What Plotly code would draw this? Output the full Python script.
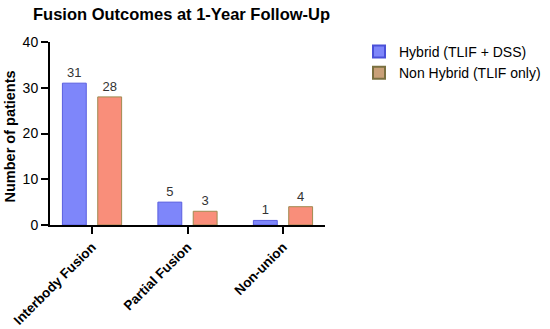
import plotly.graph_objects as go

categories = ["Interbody Fusion", "Partial Fusion", "Non-union"]
hybrid = [31, 5, 1]
non_hybrid = [28, 3, 4]
series_names = ["Hybrid (TLIF + DSS)", "Non Hybrid (TLIF only)"]
y_ticks = [0, 10, 20, 30, 40]
y_title = "Number of patients"
chart_title = "Fusion Outcomes at 1-Year Follow-Up"

FONT = "Liberation Sans, Arial, sans-serif"
W, H = 550, 329
L, R, T, B = 50, 225, 42, 104

fig = go.Figure()
fig.add_trace(go.Bar(
    x=categories, y=hybrid, name=series_names[0], showlegend=False,
    marker=dict(color="#7E86FA", line=dict(color="#5A5FE0", width=1)),
    width=0.25, offset=-0.31,
    text=hybrid, textposition="outside", textfont=dict(size=13, color="#333333", family=FONT),
    cliponaxis=False,
))
fig.add_trace(go.Bar(
    x=categories, y=non_hybrid, name=series_names[1], showlegend=False,
    marker=dict(color="#F98E7A", line=dict(color="#A08A50", width=1)),
    width=0.25, offset=0.06,
    text=non_hybrid, textposition="outside", textfont=dict(size=13, color="#333333", family=FONT),
    cliponaxis=False,
))
# legend entries
fig.add_trace(go.Bar(x=[None], y=[None], name=series_names[0],
                     marker=dict(color="#7E86FA", line=dict(color="#4A50D8", width=1))))
fig.add_trace(go.Bar(x=[None], y=[None], name=series_names[1],
                     marker=dict(color="#C9A078", line=dict(color="#7A7040", width=1))))

pw = W - L - R
ph = H - T - B
fig.update_layout(
    width=W, height=H,
    margin=dict(l=L, r=R, t=T, b=B, autoexpand=False),
    paper_bgcolor="white", plot_bgcolor="white",
    font=dict(family=FONT, color="black"),
    title=dict(text=f"<b>{chart_title}</b>", x=33/W, xanchor="left",
               y=1 - 14/H, yanchor="middle", font=dict(size=16.5, family=FONT, color="black")),
    showlegend=True,
    legend=dict(x=359/W, xref="container", y=1 - 36/H, yref="container",
                yanchor="top", xanchor="left",
                font=dict(size=14, family=FONT, color="black"), tracegroupgap=0,
                itemsizing="constant", bgcolor="rgba(0,0,0,0)"),
    barmode="overlay",
    annotations=[dict(
        text=f"<b>{y_title}</b>", textangle=-90, showarrow=False,
        xref="paper", yref="paper",
        x=(9.5 - L) / pw, y=(H - B - 137) / ph,
        xanchor="center", yanchor="middle",
        font=dict(size=14.5, family=FONT, color="black"),
    )],
)
fig.update_xaxes(
    type="category", range=[-0.44, 2.44], automargin=False,
    showline=True, linecolor="black", linewidth=2,
    ticks="outside", ticklen=7, tickwidth=2, tickcolor="black",
    tickangle=-45, tickfont=dict(size=13.5, family=FONT, color="black"),
    tickprefix="<b>", ticksuffix="</b>", showgrid=False,
)
fig.update_yaxes(
    range=[0, 40], tickvals=y_ticks, automargin=False,
    showline=True, linecolor="black", linewidth=2,
    ticks="outside", ticklen=7, tickwidth=2, tickcolor="black",
    tickfont=dict(size=14, family=FONT, color="black"),
    tickprefix="<b>", ticksuffix="</b>", showgrid=False, zeroline=False,
)

fig.write_html("out.html", config={"displayModeBar": False},
               post_script="document.body.style.margin='0';")
